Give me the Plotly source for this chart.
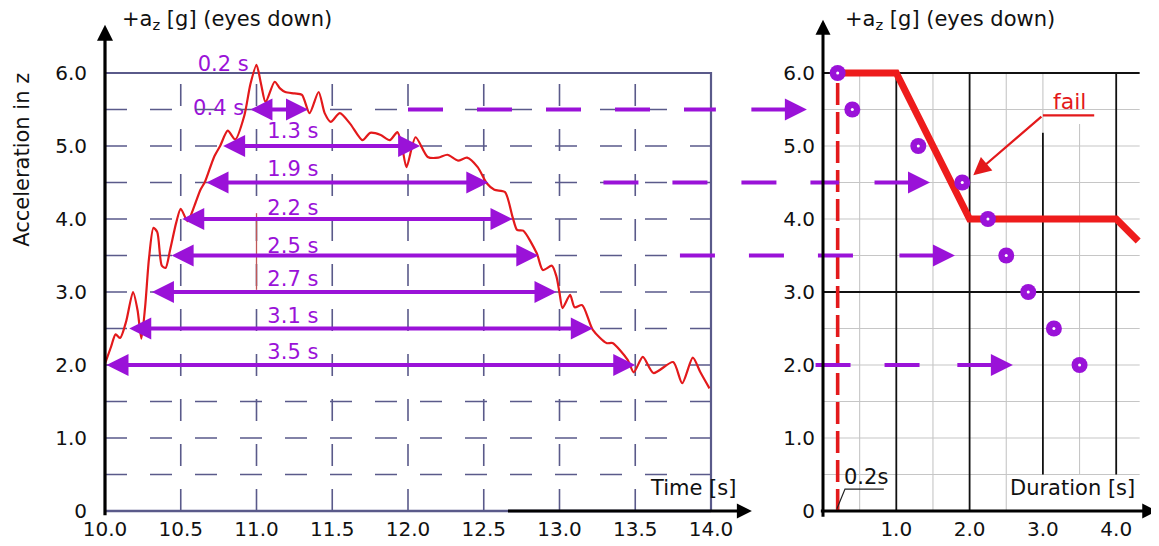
import plotly.graph_objects as go

# ---------------- data ----------------
time_s = [10.00, 10.04, 10.07, 10.10, 10.14, 10.185, 10.215, 10.24, 10.265, 10.29, 10.32, 10.345,
          10.375, 10.40, 10.43, 10.47, 10.50, 10.545, 10.59, 10.63, 10.66, 10.72, 10.76, 10.81,
          10.86, 10.92, 10.96, 11.00, 11.03, 11.06, 11.12, 11.155, 11.19, 11.25, 11.30, 11.35,
          11.41, 11.45, 11.49, 11.55, 11.62, 11.70, 11.75, 11.82, 11.88, 11.93, 11.96, 11.99,
          12.05, 12.13, 12.20, 12.26, 12.33, 12.39, 12.46, 12.52, 12.57, 12.64, 12.69, 12.72,
          12.76, 12.85, 12.89, 12.95, 12.98, 13.00, 13.02, 13.07, 13.10, 13.15, 13.22, 13.31,
          13.35, 13.45, 13.49, 13.55, 13.62, 13.75, 13.81, 13.88, 13.93, 13.99]
accel_g = [2.02, 2.25, 2.42, 2.37, 2.60, 3.00, 2.75, 2.36, 2.80, 3.45, 3.88, 3.82,
           3.36, 3.33, 3.58, 3.95, 4.14, 3.97, 4.18, 4.40, 4.51, 4.85, 5.00, 5.21,
           5.09, 5.42, 5.85, 6.11, 5.85, 5.60, 5.88, 5.79, 5.74, 5.72, 5.70, 5.45,
           5.74, 5.45, 5.33, 5.45, 5.30, 5.08, 5.18, 5.15, 5.08, 5.19, 5.00, 4.71,
           5.12, 4.85, 4.84, 4.88, 4.80, 4.84, 4.71, 4.49, 4.40, 4.37, 4.03, 3.85,
           3.84, 3.53, 3.30, 3.36, 3.21, 2.99, 2.78, 2.96, 2.79, 2.82, 2.48, 2.30,
           2.30, 2.07, 1.90, 2.11, 1.89, 2.04, 1.75, 2.10, 1.90, 1.68]

time_ticks = [10.0, 10.5, 11.0, 11.5, 12.0, 12.5, 13.0, 13.5, 14.0]
time_tick_text = ["10.0", "10.5", "11.0", "11.5", "12.0", "12.5", "13.0", "13.5", "14.0"]
g_ticks = [0, 1, 2, 3, 4, 5, 6]
g_tick_text = ["0", "1.0", "2.0", "3.0", "4.0", "5.0", "6.0"]
dur_ticks = [1, 2, 3, 4]
dur_tick_text = ["1.0", "2.0", "3.0", "4.0"]

exposure_text = ["0.2 s", "0.4 s", "1.3 s", "1.9 s", "2.2 s", "2.5 s", "2.7 s", "3.1 s", "3.5 s"]
exposure_text_t = [10.78, 10.75, 11.24, 11.24, 11.24, 11.24, 11.24, 11.24, 11.24]
exposure_text_g = [6.10, 5.50, 5.18, 4.66, 4.13, 3.61, 3.16, 2.65, 2.16]

span_g = [5.5, 5.0, 4.5, 4.0, 3.5, 3.0, 2.5, 2.0]
span_start_t = [10.95, 10.77, 10.66, 10.50, 10.43, 10.30, 10.15, 10.00]
span_end_t = [11.34, 12.08, 12.53, 12.69, 12.86, 12.98, 13.22, 13.50]

dot_duration = [0.2, 0.4, 1.3, 1.9, 2.25, 2.5, 2.8, 3.15, 3.5]
dot_g = [6.0, 5.5, 5.0, 4.5, 4.0, 3.5, 3.0, 2.5, 2.0]

limit_duration = [0.2, 1.0, 2.0, 4.0, 4.3]
limit_g = [6.0, 6.0, 4.0, 4.0, 3.7]

transfer_g = [5.5, 4.5, 3.5, 2.0]
transfer_start_t = [12.0, 13.29, 13.795, 14.69]
transfer_tip_d = [-0.22, 1.46, 1.80, 2.59]

left_grid_g = [0.5, 1.0, 1.5, 2.0, 2.5, 3.0, 3.5, 4.0, 4.5, 5.0, 5.5]
left_grid_t = [10.5, 11.0, 11.5, 12.0, 12.5, 13.0, 13.5]
right_grid_g = [0.5, 1.0, 1.5, 2.0, 2.5, 3.5, 4.0, 4.5, 5.0, 5.5]

# ---------------- layout constants (pixels) ----------------
PAGE_MARGIN = 8               # default <body> margin of the written page
W, H = 1159 - PAGE_MARGIN, 546 - PAGE_MARGIN
T_PX0, T_PPU = 105.0 - PAGE_MARGIN, 151.5   # t = 10 s position, px per second (left)
D_PX0, D_PPU = 823.0 - PAGE_MARGIN, 73.3    # duration 0 position, px per second (right)
G_PX0, G_PPU = 511.0 - PAGE_MARGIN, 73.0    # 0 g position (from top), px per g

x_range = [10 - T_PX0 / T_PPU, 10 + (W - T_PX0) / T_PPU]
x2_range = [-D_PX0 / D_PPU, (W - D_PX0) / D_PPU]
y_range = [-(H - G_PX0) / G_PPU, G_PX0 / G_PPU]


def t_to_d(t):
    return (T_PX0 + (t - 10) * T_PPU - D_PX0) / D_PPU


PURPLE = "#9a12d8"
SLATE = "#5a5a8a"
RED = "#e3191b"
FONT = "DejaVu Sans"

fig = go.Figure()


def seg_trace(xs, ys, color, width, dash="solid", xaxis="x", yaxis="y"):
    fig.add_trace(go.Scatter(x=xs, y=ys, mode="lines", xaxis=xaxis, yaxis=yaxis,
                             line=dict(color=color, width=width, dash=dash),
                             hoverinfo="skip", showlegend=False))


# purple labels (below the grid, like the reference)
fig.add_trace(go.Scatter(x=exposure_text_t, y=exposure_text_g, mode="text", text=exposure_text,
                         textfont=dict(family=FONT, size=21, color=PURPLE),
                         hoverinfo="skip", showlegend=False, cliponaxis=False))

# left grid (dashed)
hx, hy = [], []
for g in left_grid_g:
    hx += [10, 14, None]
    hy += [g, g, None]
seg_trace(hx, hy, SLATE, 1.6, "22px,23px")
vx, vy = [], []
for t in left_grid_t:
    vx += [t, t, None]
    vy += [0, 6, None]
seg_trace(vx, vy, SLATE, 1.6, "22px,23px")
# left frame
seg_trace([10, 14, 14], [6, 6, 0], SLATE, 2.2)
seg_trace([10, 14], [0, 0], SLATE, 2.6)
seg_trace([11.0, 11.0], [3.03, 4.08], "#c05858", 1.3)

# acceleration curve
fig.add_trace(go.Scatter(x=time_s, y=accel_g, mode="lines",
                         line=dict(color=RED, width=2.2, shape="spline", smoothing=0.7),
                         hoverinfo="skip", showlegend=False))

# right panel grid
gx, gy = [], []
for g in right_grid_g:
    gx += [0, 4.32, None]
    gy += [g, g, None]
for d, lo, hi in [(0.5, 0, 6), (1.5, 0, 6), (2.5, 0, 6), (3.5, 0.5, 5.3), (3.0, 5.18, 6)]:
    gx += [d, d, None]
    gy += [lo, hi, None]
seg_trace(gx, gy, "#c6c6c6", 1.1, xaxis="x2", yaxis="y2")
bx, by = [], []
for g in [3.0, 6.0]:
    bx += [0, 4.32, None]
    by += [g, g, None]
for d, lo, hi in [(1.0, 0, 6), (2.0, 0, 6), (3.0, 0.5, 5.18), (4.0, 0.5, 6)]:
    bx += [d, d, None]
    by += [lo, hi, None]
seg_trace(bx, by, "#111111", 1.8, xaxis="x2", yaxis="y2")

# 0.2 s dashed red marker line
seg_trace([dot_duration[0], dot_duration[0]], [0, 6], RED, 3.6, "22px,7px", "x2", "y2")

# limit line
seg_trace(limit_duration, limit_g, "#ee1c1c", 7, xaxis="x2", yaxis="y2")

# transfer dashed lines (from left panel to right panel)
ARROW_LEN = 57 / D_PPU
GAP = 34 / D_PPU
for g, ts, tip in zip(transfer_g, transfer_start_t, transfer_tip_d):
    seg_trace([t_to_d(ts), tip - ARROW_LEN - GAP], [g, g], PURPLE, 4, "35px,34px", "x2", "y2")

# points
fig.add_trace(go.Scatter(x=dot_duration, y=dot_g, mode="markers", xaxis="x2", yaxis="y2",
                         marker=dict(size=16, color=PURPLE, line=dict(width=0)),
                         hoverinfo="skip", showlegend=False))
fig.add_trace(go.Scatter(x=dot_duration, y=dot_g, mode="markers", xaxis="x2", yaxis="y2",
                         marker=dict(size=3, color="white", line=dict(width=0)),
                         hoverinfo="skip", showlegend=False))

# notes leaders
seg_trace([0.19, 0.30, 0.83], [0.03, 0.30, 0.30], "#222222", 1.2, xaxis="x2", yaxis="y2")
seg_trace([3.7, 3.0], [5.42, 5.42], RED, 2.2, xaxis="x2", yaxis="y2")

ann = []


def arrow(x, y, ax, ay, color, width, size, ref="", both=False):
    d = dict(x=x, y=y, ax=ax, ay=ay, xref="x" + ref, yref="y" + ref, axref="x" + ref,
             ayref="y" + ref, text="", showarrow=True, arrowhead=2, arrowsize=size,
             arrowwidth=width, arrowcolor=color, standoff=0)
    if both:
        d.update(arrowside="end+start", startarrowhead=2, startarrowsize=size, startstandoff=0)
    ann.append(d)


for g, ts, te in zip(span_g, span_start_t, span_end_t):
    arrow(te, g, ts, g, PURPLE, 4, 1.1, both=True)
for g, tip in zip(transfer_g, transfer_tip_d):
    arrow(tip, g, tip - ARROW_LEN, g, PURPLE, 4, 1.1, ref="2")

# axes arrows
arrow(10, 6.66, 10, -0.08, "#000000", 3.2, 1.0)
arrow(14.27, 0, 12.65, 0, "#000000", 3.0, 1.0)
arrow(0, 6.73, 0, -0.1, "#000000", 3.0, 1.0, ref="2")
arrow(4.56, 0, -0.05, 0, "#000000", 3.0, 1.0, ref="2")
# fail arrow
arrow(2.05, 4.6, 3.0, 5.42, RED, 2.2, 1.6, ref="2")


def text(x, y, s, size=21, color="#111111", ref="", **kw):
    d = dict(x=x, y=y, xref="x" + ref, yref="y" + ref, text=s, showarrow=False,
             font=dict(family=FONT, size=size, color=color))
    d.update(kw)
    ann.append(d)


text(10.1, 6.73, "+a<sub>z</sub> [g] (eyes down)", xanchor="left")
text(0.27, 6.73, "+a<sub>z</sub> [g] (eyes down)", ref="2", xanchor="left")
text(9.452, 4.81, "Acceleration in z", textangle=-90)
text(13.88, 0.31, "Time [s]")
text(3.40, 0.31, "Duration [s]", ref="2")
text(3.36, 5.61, "fail", size=22, color=RED, ref="2")
text(0.59, 0.47, "0.2s", ref="2")

tickfont = dict(family=FONT, size=20, color="#111111")
fig.update_layout(
    width=W, height=H, margin=dict(l=0, r=0, t=0, b=0, pad=0),
    paper_bgcolor="white", plot_bgcolor="white", showlegend=False,
    annotations=ann,
    xaxis=dict(domain=[0, 1], range=x_range, anchor="free", position=(H - G_PX0) / H,
               tickvals=time_ticks, ticktext=time_tick_text, ticks="", showgrid=False,
               zeroline=False, showline=False, tickfont=tickfont, ticklabelstandoff=4),
    xaxis2=dict(domain=[0, 1], range=x2_range, overlaying="x", anchor="free",
                position=(H - G_PX0) / H, tickvals=dur_ticks, ticktext=dur_tick_text,
                ticks="", showgrid=False, zeroline=False, showline=False, tickfont=tickfont,
                ticklabelstandoff=4),
    yaxis=dict(domain=[0, 1], range=y_range, anchor="free", position=T_PX0 / W,
               tickvals=g_ticks, ticktext=g_tick_text, ticks="", showgrid=False,
               zeroline=False, showline=False, tickfont=tickfont, ticklabelstandoff=18),
    yaxis2=dict(domain=[0, 1], range=y_range, overlaying="y", anchor="free",
                position=D_PX0 / W, tickvals=g_ticks, ticktext=g_tick_text, ticks="",
                showgrid=False, zeroline=False, showline=False, tickfont=tickfont,
                ticklabelstandoff=8, side="left"),
)

fig.write_html("out.html")
